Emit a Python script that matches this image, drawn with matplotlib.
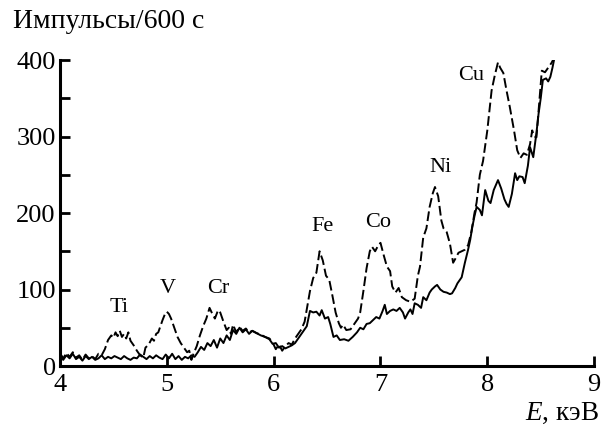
# X-ray fluorescence spectrum: two samples, counts per 600 s vs energy

import matplotlib
matplotlib.use("Agg")
import matplotlib.pyplot as plt
from matplotlib.ticker import MultipleLocator

plt.rcParams['font.family'] = ['Liberation Serif', 'DejaVu Serif']
plt.rcParams['mathtext.fontset'] = 'custom'
plt.rcParams['mathtext.it'] = 'Liberation Serif:italic'
plt.rcParams['mathtext.rm'] = 'Liberation Serif'

# dashed curve (sample with metals)
energy_dashed = [
    4.00, 4.03, 4.06, 4.09, 4.12, 4.15, 4.18, 4.21, 4.24, 4.27, 4.30, 4.33, 4.36, 4.39,
    4.42, 4.45, 4.48, 4.50, 4.52, 4.54, 4.56, 4.58, 4.60, 4.62, 4.64, 4.66, 4.69, 4.72,
    4.75, 4.78, 4.80, 4.83, 4.86, 4.88, 4.90, 4.92, 4.94, 4.96, 4.98, 5.00, 5.02, 5.04,
    5.07, 5.10, 5.13, 5.16, 5.19, 5.21, 5.23, 5.25, 5.28, 5.31, 5.34, 5.37, 5.40, 5.42,
    5.45, 5.48, 5.50, 5.53, 5.56, 5.58, 5.60, 5.62, 5.65, 5.68, 5.71, 5.74, 5.77, 5.80,
    5.84, 5.88, 5.92, 5.96, 5.99, 6.02, 6.05, 6.08, 6.11, 6.14, 6.17, 6.20, 6.23, 6.26,
    6.29, 6.32, 6.34, 6.37, 6.40, 6.43, 6.46, 6.49, 6.52, 6.55, 6.58, 6.61, 6.63, 6.65,
    6.68, 6.72, 6.76, 6.79, 6.81, 6.84, 6.87, 6.90, 6.92, 6.95, 6.98, 7.00, 7.03, 7.06,
    7.09, 7.11, 7.14, 7.17, 7.20, 7.24, 7.28, 7.32, 7.35, 7.37, 7.40, 7.43, 7.46, 7.49,
    7.51, 7.54, 7.57, 7.59, 7.62, 7.65, 7.68, 7.70, 7.73, 7.76, 7.79, 7.82, 7.85, 7.88,
    7.90, 7.93, 7.96, 8.00, 8.04, 8.07, 8.10, 8.12, 8.15, 8.18, 8.21, 8.25, 8.28, 8.31,
    8.34, 8.37, 8.40, 8.42, 8.44, 8.46, 8.49, 8.51, 8.54, 8.57, 8.60, 8.63,
]
counts_dashed = [
    16, 10, 17, 12, 18, 11, 14, 8, 15, 10, 13, 9, 16, 14,
    22, 34, 40, 37, 44, 39, 46, 38, 42, 36, 44, 33, 27, 20,
    14, 11, 24, 28, 36, 33, 42, 44, 52, 60, 67, 71, 68, 62,
    50, 38, 30, 24, 18, 20, 8, 16, 26, 40, 52, 62, 76, 70,
    62, 73, 70, 58, 47, 50, 42, 54, 44, 51, 46, 49, 44, 46,
    43, 41, 38, 36, 31, 22, 28, 20, 26, 30, 28, 36, 42, 48,
    58, 82, 98, 115, 122, 150, 138, 118, 113, 92, 70, 56, 50, 54,
    47, 48, 56, 62, 70, 98, 128, 150, 156, 150, 158, 161, 145, 130,
    124, 104, 96, 102, 90, 86, 84, 88, 118, 130, 168, 180, 208, 226,
    234, 222, 190, 180, 175, 160, 135, 140, 148, 150, 152, 158, 175, 200,
    214, 250, 268, 308, 360, 380, 397, 390, 383, 360, 339, 308, 282, 272,
    278, 276, 290, 308, 300, 299, 352, 386, 384, 390, 396, 404,
]

# solid curve (reference sample)
energy_solid = [
    4.00, 4.03, 4.06, 4.09, 4.12, 4.15, 4.18, 4.21, 4.24, 4.27, 4.30, 4.33, 4.36, 4.39,
    4.42, 4.45, 4.48, 4.51, 4.54, 4.57, 4.60, 4.63, 4.66, 4.69, 4.72, 4.75, 4.78, 4.81,
    4.84, 4.87, 4.90, 4.93, 4.96, 4.99, 5.02, 5.05, 5.08, 5.11, 5.14, 5.17, 5.20, 5.23,
    5.26, 5.29, 5.32, 5.35, 5.38, 5.41, 5.44, 5.47, 5.50, 5.53, 5.56, 5.59, 5.62, 5.65,
    5.68, 5.71, 5.74, 5.77, 5.80, 5.84, 5.88, 5.92, 5.96, 5.99, 6.02, 6.05, 6.08, 6.11,
    6.14, 6.17, 6.20, 6.23, 6.26, 6.29, 6.31, 6.34, 6.37, 6.40, 6.43, 6.45, 6.48, 6.51,
    6.53, 6.56, 6.59, 6.62, 6.66, 6.70, 6.74, 6.78, 6.81, 6.84, 6.87, 6.90, 6.93, 6.96,
    6.99, 7.02, 7.04, 7.06, 7.09, 7.12, 7.15, 7.18, 7.21, 7.23, 7.26, 7.28, 7.30, 7.32,
    7.35, 7.38, 7.40, 7.43, 7.46, 7.48, 7.51, 7.53, 7.56, 7.59, 7.62, 7.65, 7.67, 7.70,
    7.72, 7.76, 7.79, 7.82, 7.84, 7.86, 7.88, 7.90, 7.93, 7.95, 7.98, 8.01, 8.03, 8.06,
    8.10, 8.13, 8.16, 8.18, 8.20, 8.23, 8.26, 8.28, 8.30, 8.33, 8.35, 8.38, 8.40, 8.43,
    8.46, 8.48, 8.50, 8.52, 8.55, 8.57, 8.59, 8.61, 8.63,
]
counts_solid = [
    18, 8, 14, 10, 16, 9, 12, 7, 13, 9, 12, 8, 10, 14,
    9, 12, 10, 13, 11, 9, 13, 10, 8, 11, 10, 15, 12, 9,
    13, 10, 14, 11, 9, 15, 10, 16, 9, 13, 8, 12, 10, 14,
    12, 18, 25, 21, 30, 26, 34, 24, 36, 30, 40, 34, 47, 42,
    50, 44, 48, 42, 46, 43, 40, 38, 35, 29, 30, 24, 26, 23,
    25, 27, 30, 36, 42, 48, 52, 72, 70, 71, 66, 73, 62, 64,
    55, 38, 40, 34, 35, 33, 38, 44, 50, 48, 55, 56, 60, 64,
    62, 72, 80, 68, 72, 74, 72, 76, 70, 62, 70, 74, 68, 82,
    80, 76, 90, 86, 96, 100, 104, 106, 100, 97, 96, 94, 95, 102,
    108, 116, 135, 152, 165, 182, 196, 208, 204, 197, 230, 216, 213, 230,
    243, 232, 218, 212, 208, 225, 252, 243, 248, 247, 239, 262, 286, 273,
    305, 330, 350, 374, 376, 372, 378, 390, 404,
]

# peak labels
peak_names = ['Ti', 'V', 'Cr', 'Fe', 'Co', 'Ni', 'Cu']
peak_x = [4.55, 5.01, 5.48, 6.46, 6.98, 7.56, 7.85]
peak_y = [77, 101, 101, 182, 188, 259, 380]

fig = plt.figure(figsize=(6.01, 4.25), dpi=100)
ax = fig.add_axes([0.0998, 0.1388, 0.8888, 0.72])

ax.plot(energy_solid, counts_solid, color='black', lw=1.4, solid_joinstyle='round')
ax.plot(energy_dashed, counts_dashed, color='black', lw=1.4, dashes=(5, 2))

for name, x, y in zip(peak_names, peak_x, peak_y):
    ax.text(x, y, name, fontsize=16, ha='center', va='center')

ax.set_xlim(4, 9)
ax.set_ylim(0, 400)
ax.xaxis.set_major_locator(MultipleLocator(1))
ax.yaxis.set_major_locator(MultipleLocator(100))
ax.yaxis.set_minor_locator(MultipleLocator(50))

for side in ['top', 'right']:
    ax.spines[side].set_visible(False)
for side in ['left', 'bottom']:
    ax.spines[side].set_linewidth(2.2)

ax.tick_params(axis='both', which='major', direction='in', length=7, width=2,
               labelsize=19)
ax.tick_params(axis='y', which='minor', direction='in', length=7, width=2)
ax.tick_params(axis='x', pad=6)
ax.tick_params(axis='y', pad=3)

fig.text(13 / 601, 1 - 22 / 425, 'Импульсы/600 с', fontsize=20, ha='left', va='center')
fig.text(599 / 601, 1 - 413 / 425, '$E$, кэВ', fontsize=19.5, ha='right', va='center')

plt.savefig('out.png', dpi=100)
